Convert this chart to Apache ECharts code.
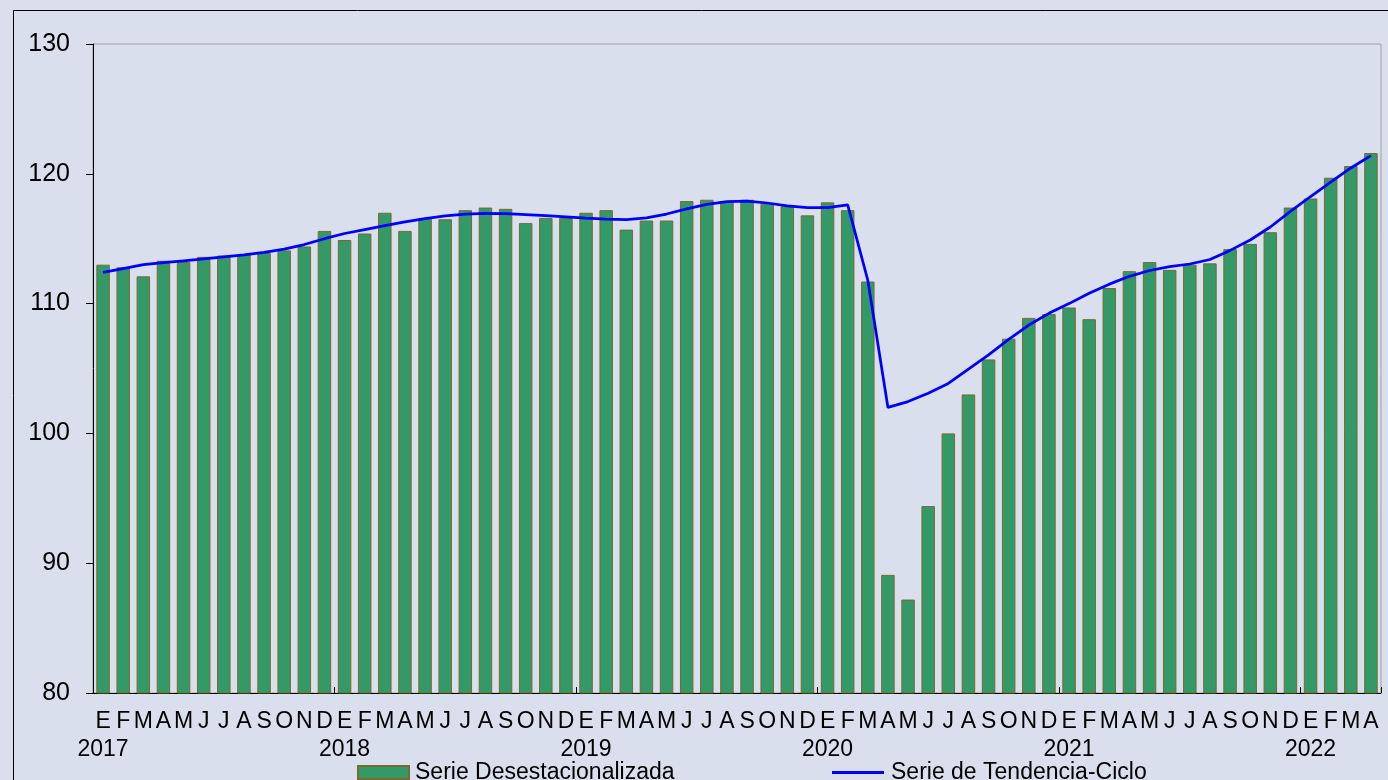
<!DOCTYPE html>
<html>
<head>
<meta charset="utf-8">
<script src="https://cdn.jsdelivr.net/npm/echarts@6/dist/echarts.min.js"></script>
<style>
  html, body { margin: 0; padding: 0; background: #d9dfec; }
  #chart { width: 1388px; height: 780px; }
</style>
</head>
<body>
<div id="chart"></div>
<script>
// ---- data ----
const years = ['2017', '2018', '2019', '2020', '2021', '2022'];
const monthLetters = ['E', 'F', 'M', 'A', 'M', 'J', 'J', 'A', 'S', 'O', 'N', 'D'];

const serieDesestacionalizada = [
  113.0, 112.8, 112.1, 113.3, 113.2, 113.6, 113.7, 113.8, 113.9, 114.1, 114.4, 115.6,
  114.9, 115.4, 117.0, 115.6, 116.6, 116.5, 117.2, 117.4, 117.3, 116.2, 116.6, 116.6,
  117.0, 117.2, 115.7, 116.4, 116.4, 117.9, 118.0, 117.9, 118.0, 117.7, 117.5, 116.8,
  117.8, 117.2, 111.7, 89.1, 87.2, 94.4, 100.0, 103.0, 105.7, 107.3, 108.9, 109.2,
  109.7, 108.8, 111.2, 112.5, 113.2, 112.6, 113.0, 113.1, 114.2, 114.6, 115.5, 117.4,
  118.1, 119.7, 120.6, 121.6
];

const serieTendenciaCiclo = [
  112.4, 112.7, 113.0, 113.15, 113.3, 113.45, 113.6, 113.75, 113.95, 114.2, 114.55, 115.0,
  115.4, 115.7, 116.0, 116.3, 116.55, 116.75, 116.9, 116.95, 116.93, 116.86, 116.78, 116.68,
  116.58, 116.5, 116.47, 116.6, 116.9, 117.3, 117.65, 117.85, 117.9, 117.75, 117.53, 117.4,
  117.4, 117.6, 111.8, 102.0, 102.45, 103.1, 103.85, 104.95, 106.05, 107.25, 108.35, 109.25,
  110.0, 110.8, 111.5, 112.1, 112.55, 112.85, 113.05, 113.4, 114.1, 114.9, 115.9, 117.1,
  118.25, 119.35, 120.45, 121.4
];

const yTicks = { min: 80, max: 130, interval: 10 };
const seriesNames = ['Serie Desestacionalizada', 'Serie de Tendencia-Ciclo'];

// build categories (year-month index) from the small arrays
const categories = [];
for (let y = 0; y < years.length; y++) {
  for (let m = 0; m < 12; m++) {
    if (categories.length < serieDesestacionalizada.length) {
      categories.push(years[y] + '-' + (m + 1));
    }
  }
}

const FONT = "'Liberation Sans', Arial, sans-serif";
const chart = echarts.init(document.getElementById('chart'), null, { renderer: 'canvas' });

chart.setOption({
  backgroundColor: '#d9dfec',
  animation: false,
  textStyle: { fontFamily: FONT, color: '#000' },
  graphic: [{
    type: 'rect',
    shape: { x: 13.5, y: 10.5, width: 1420, height: 820 },
    style: { fill: 'none', stroke: '#000', lineWidth: 1 },
    silent: true, z: -1
  }],
  grid: {
    left: 93, top: 44, right: 7, bottom: 87,
    show: true, borderColor: '#a0a0a0', borderWidth: 1,
    backgroundColor: 'transparent', containLabel: false
  },
  legend: [{
    left: 352, top: 756,
    itemWidth: 51, itemHeight: 13, itemGap: 6,
    textStyle: { fontFamily: FONT, fontSize: 23, color: '#000', padding: [0, 0, 0, 1] },
    data: [{ name: seriesNames[0], icon: 'rect' }]
  }, {
    left: 827, top: 756,
    itemWidth: 52, itemHeight: 13, itemGap: 6,
    textStyle: { fontFamily: FONT, fontSize: 23, color: '#000', padding: [0, 0, 0, 2] },
    data: [{ name: seriesNames[1], icon: 'path://M0,0H100V5.5H0Z' }]
  }],
  xAxis: {
    type: 'category',
    data: categories,
    boundaryGap: true,
    axisLine: { show: true, lineStyle: { color: '#000', width: 1 } },
    axisTick: {
      show: true, inside: true, length: 6,
      lineStyle: { color: '#000' },
      interval: function (index) { return index % 12 === 0; }
    },
    axisLabel: {
      interval: 0,
      margin: 15,
      fontFamily: FONT,
      fontSize: 23,
      lineHeight: 28,
      color: '#000',
      formatter: function (value, index) {
        const m = index % 12;
        const letter = monthLetters[m];
        return m === 0 ? letter + '\n' + years[Math.floor(index / 12)] : letter;
      }
    },
    splitLine: { show: false }
  },
  yAxis: {
    type: 'value',
    min: yTicks.min, max: yTicks.max, interval: yTicks.interval,
    axisLine: { show: true, lineStyle: { color: '#000', width: 1 } },
    axisTick: { show: true, length: 7, lineStyle: { color: '#000' } },
    axisLabel: { fontFamily: FONT, fontSize: 25, color: '#000', margin: 23 },
    splitLine: { show: false }
  },
  series: [{
    name: seriesNames[0],
    type: 'bar',
    data: serieDesestacionalizada,
    barCategoryGap: '33%',
    itemStyle: { color: '#339966', borderColor: '#7a6a30', borderWidth: 1 },
    z: 2
  }, {
    name: seriesNames[1],
    type: 'line',
    data: serieTendenciaCiclo,
    symbol: 'none',
    smooth: false,
    color: '#0000ff',
    itemStyle: { color: '#0000ff' },
    lineStyle: { color: '#0000ff', width: 2.75 },
    z: 3
  }]
});
</script>
</body>
</html>
